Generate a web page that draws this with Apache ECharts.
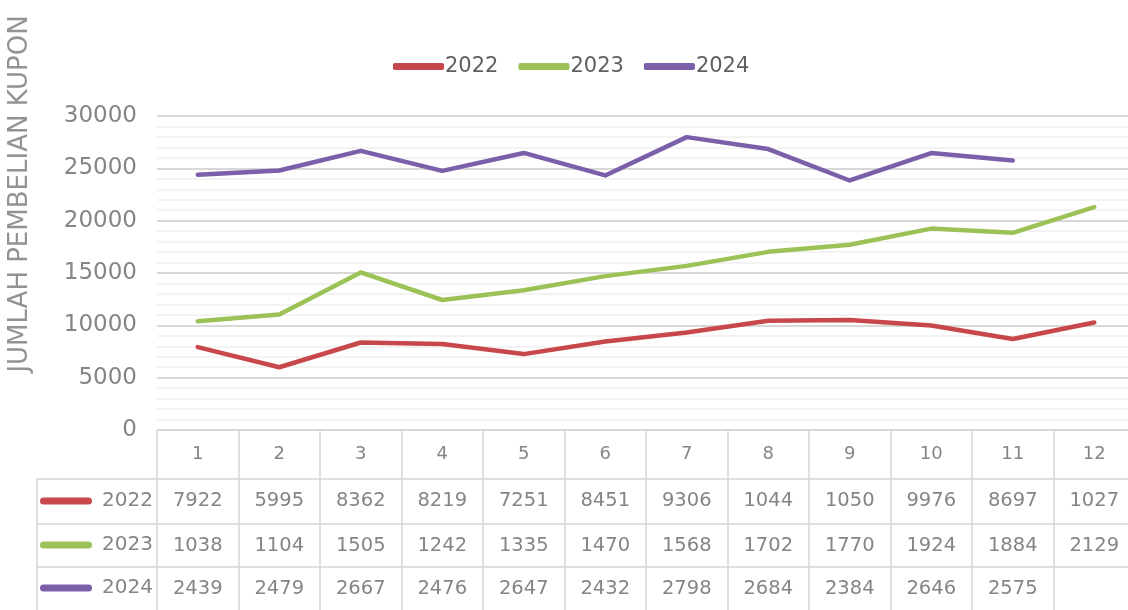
<!DOCTYPE html>
<html>
<head>
<meta charset="utf-8">
<script src="https://cdn.jsdelivr.net/npm/echarts@6/dist/echarts.min.js"></script>
<style>
  html, body { margin: 0; padding: 0; background: #fff; overflow: hidden; }
  #main { width: 1135px; height: 610px; }
</style>
</head>
<body>
<div id="main"></div>
<script>
// data
var months = ["1", "2", "3", "4", "5", "6", "7", "8", "9", "10", "11", "12"];
var years = ["2022", "2023", "2024"];
var data2022 = [7922, 5995, 8362, 8219, 7251, 8451, 9306, 10440, 10500, 9976, 8697, 10270];
var data2023 = [10380, 11040, 15050, 12420, 13350, 14700, 15680, 17020, 17700, 19240, 18840, 21290];
var data2024 = [24390, 24790, 26670, 24760, 26470, 24320, 27980, 26840, 23840, 26460, 25750, null];
var yTicks = [0, 30000, 5000];
var colors = ["#c8474a", "#9cc257", "#7b5fa9"];

var rows = [data2022, data2023, data2024];
var font = "DejaVu Sans";
var textColor = "#858585";
var border = "#d6d6d6";

// table rows are extra x axes under the grid
var rowTop = [0, 49, 94, 137];
var rowH = [49, 45, 43, 43];

function makeAxis(k) {
  return {
    type: "category",
    gridIndex: 0,
    position: "bottom",
    offset: rowTop[k],
    data: months,
    axisLine: { show: true, lineStyle: { color: border, width: 1.5 } },
    axisTick: { show: true, interval: 0, length: rowH[k], lineStyle: { color: border, width: 1.5 } },
    axisLabel: {
      interval: 0,
      margin: k === 0 ? 15 : 12,
      fontFamily: font,
      fontSize: k === 0 ? 18 : 19.5,
      color: textColor,
      formatter: function (v, i) {
        if (k === 0) return v;
        var val = rows[k - 1][i];
        // the source table cuts the numbers to 4 characters
        return val == null ? "" : String(val).slice(0, 4);
      }
    }
  };
}

var chart = echarts.init(document.getElementById("main"));

// left column of the table: swatch + year
var leftGraphics = [];
[479, 524, 567].forEach(function (y, i) {
  leftGraphics.push({
    type: "line", shape: { x1: 37, y1: y, x2: 157, y2: y },
    style: { stroke: border, lineWidth: 1.5 }
  });
  var cy = y + (i === 0 ? 22 : 21);
  leftGraphics.push({
    type: "rect", shape: { x: 40, y: cy - 3.5, width: 52, height: 7, r: 3.5 },
    style: { fill: colors[i] }
  });
  leftGraphics.push({
    type: "text", x: 153, y: cy,
    style: { text: years[i], fill: textColor, font: "20px " + font, align: "right", verticalAlign: "middle" }
  });
});
leftGraphics.push({
  type: "line", shape: { x1: 37, y1: 479, x2: 37, y2: 610 },
  style: { stroke: border, lineWidth: 1.5 }
});
// y axis title
leftGraphics.push({
  type: "text", x: 20, y: 194, rotation: Math.PI / 2,
  style: { text: "JUMLAH PEMBELIAN KUPON", fill: "#939393", font: "26px " + font, align: "center", verticalAlign: "middle" }
});

var option = {
  animation: false,
  color: colors,
  textStyle: { fontFamily: font },
  legend: {
    top: 51,
    left: 388,
    icon: "roundRect",
    itemWidth: 51,
    itemHeight: 7,
    itemGap: 20,
    textStyle: { fontFamily: font, fontSize: 21, color: "#5f5f5f", padding: [0, 0, 0, -4] },
    data: years
  },
  grid: { left: 157, right: 0, top: 116, bottom: 180 },
  xAxis: [makeAxis(0), makeAxis(1), makeAxis(2), makeAxis(3)],
  yAxis: {
    type: "value",
    min: yTicks[0],
    max: yTicks[1],
    interval: yTicks[2],
    axisLine: { show: false },
    axisTick: { show: false },
    axisLabel: {
      margin: 20, fontFamily: font, fontSize: 23, color: textColor,
      formatter: function (v) { return String(v); }
    },
    splitLine: { lineStyle: { color: "#d8d8d8", width: 2 } },
    minorTick: { show: false, splitNumber: 5 },
    minorSplitLine: { show: true, lineStyle: { color: "#efefef", width: 1.5 } }
  },
  graphic: leftGraphics,
  series: years.map(function (y, i) {
    return {
      name: y,
      type: "line",
      data: rows[i],
      symbol: "none",
      lineStyle: { width: 4.5, color: colors[i], cap: "round", join: "round" },
      itemStyle: { color: colors[i] }
    };
  })
};
chart.setOption(option);
</script>
</body>
</html>
